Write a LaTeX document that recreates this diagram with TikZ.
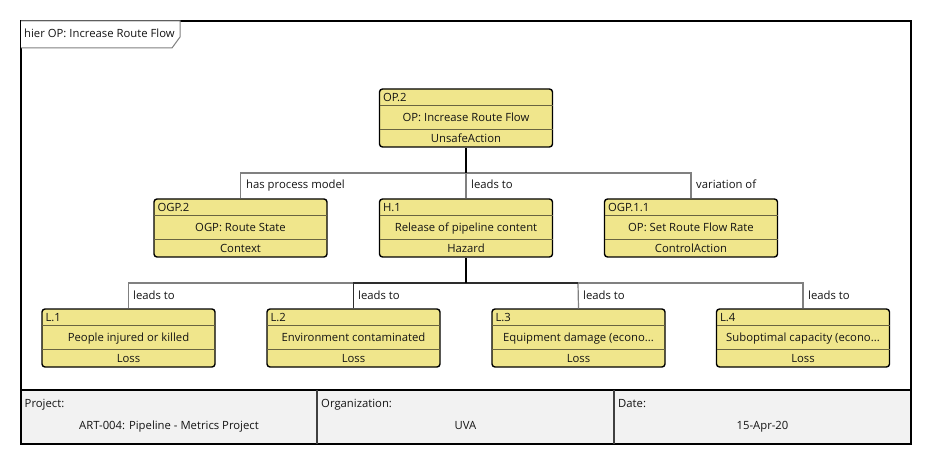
\documentclass[tikz,border=0pt]{standalone}
\usepackage{fontspec}
\setmainfont{Open Sans}
\definecolor{khaki}{RGB}{240,230,140}
\definecolor{sepc}{RGB}{105,100,65}
\definecolor{conng}{RGB}{128,128,128}
\definecolor{conndk}{RGB}{45,45,45}
\definecolor{tablebg}{RGB}{242,242,242}
\definecolor{txt}{RGB}{20,20,20}
\tikzset{
  entbox/.style={draw=black, line width=1.4pt, fill=khaki, rounded corners=3pt, minimum width=173pt, minimum height=58pt, inner sep=0pt},
  sepline/.style={draw=sepc, line width=1.3pt},
  txtnode/.style={inner sep=0pt, text=txt, text height=8pt, text depth=0pt, font=\fontsize{11.3}{13}\selectfont},
  conn/.style={draw=conng, line width=1.2pt},
  conndark/.style={draw=conndk, line width=1.2pt},
  connroot/.style={draw=black, line width=1.4pt},
}
\newcommand{\entity}[6]{%
  \node[entbox] (#1) at (#2,#3) {};
  \draw[sepline] ([xshift=0.7pt,yshift=-17pt]#1.north west) -- ([xshift=-0.7pt,yshift=-17pt]#1.north east);
  \draw[sepline] ([xshift=0.7pt,yshift=18pt]#1.south west) -- ([xshift=-0.7pt,yshift=18pt]#1.south east);
  \node[txtnode, anchor=west] (#1id) at ([xshift=4pt,yshift=-9pt]#1.north west) {#4};
  \node[txtnode] (#1t) at ([yshift=-29pt]#1.north) {#5};
  \node[txtnode] (#1k) at ([yshift=9pt]#1.south) {#6};
}
\begin{document}
\begin{tikzpicture}[x=1pt,y=-1pt]
\useasboundingbox (0,0) rectangle (932,465);
\fill[white] (0,0) rectangle (932,465);
% outer frame
\draw[line width=2pt, black] (21,21) rectangle (911,444);
% title tab
\draw[draw=conng, fill=white, line width=1pt] (21,21) -- (180,21) -- (180,37) -- (172,48) -- (21,48);
\node[txtnode, anchor=west] (title) at (24,34) {hier OP: Increase Route Flow};
% table
\fill[tablebg] (22,390) rectangle (910,443);
\draw[line width=2pt, black] (21,389.5) -- (911,389.5);
\draw[line width=2pt, black!75] (317,389.5) -- (317,444);
\draw[line width=2pt, black!75] (614,389.5) -- (614,444);
\node[txtnode, anchor=west] (proj) at (24.5,403) {Project:};
\node[txtnode] (projv) at (169,425) {ART-004: Pipeline - Metrics Project};
\node[txtnode, anchor=west] (org) at (321,403) {Organization:};
\node[txtnode] (orgv) at (465.5,425) {UVA};
\node[txtnode, anchor=west] (date) at (618,403) {Date:};
\node[txtnode] (datev) at (762.5,425) {15-Apr-20};
% buses
\coordinate (b1) at (466,173);
\coordinate (b2) at (466,283);
\coordinate (b2l) at (353,283);
\coordinate (b2r) at (578,283);
% boxes
\entity{op2}{466}{118}{OP.2}{OP: Increase Route Flow}{UnsafeAction}
\entity{ogp2}{240.5}{228}{OGP.2}{OGP: Route State}{Context}
\entity{h1}{466}{228}{H.1}{Release of pipeline content}{Hazard}
\entity{ogp11}{691}{228}{OGP.1.1}{OP: Set Route Flow Rate}{ControlAction}
\entity{l1}{128.5}{338}{L.1}{People injured or killed}{Loss}
\entity{l2}{353.5}{338}{L.2}{Environment contaminated}{Loss}
\entity{l3}{578.5}{338}{L.3}{Equipment damage (econo...}{Loss}
\entity{l4}{803}{338}{L.4}{Suboptimal capacity (econo...}{Loss}
% top level connectors
\draw[conn] (ogp2.north) |- (b1);
\draw[conn] (ogp11.north) |- (b1);
\draw[conn] (h1.north) -- (b1);
\draw[connroot] (op2.south) -- (b1);
% lower connectors
\draw[conn] (l1.north) |- (b2l);
\draw[conn] (l4.north) |- (b2r);
\draw[conn] (l3.north) -- (b2r);
\draw[conndark] (l2.north) |- (b2r);
\draw[connroot] (h1.south) -- (b2);
% labels
\node[txtnode, anchor=west] (lab1) at (246,185) {has process model};
\node[txtnode, anchor=west] (lab2) at (471,185) {leads to};
\node[txtnode, anchor=west] (lab3) at (696,185) {variation of};
\node[txtnode, anchor=west] (lab4) at (133,295) {leads to};
\node[txtnode, anchor=west] (lab5) at (358,295) {leads to};
\node[txtnode, anchor=west] (lab6) at (583,295) {leads to};
\node[txtnode, anchor=west] (lab7) at (808,295) {leads to};
\end{tikzpicture}
\end{document}
